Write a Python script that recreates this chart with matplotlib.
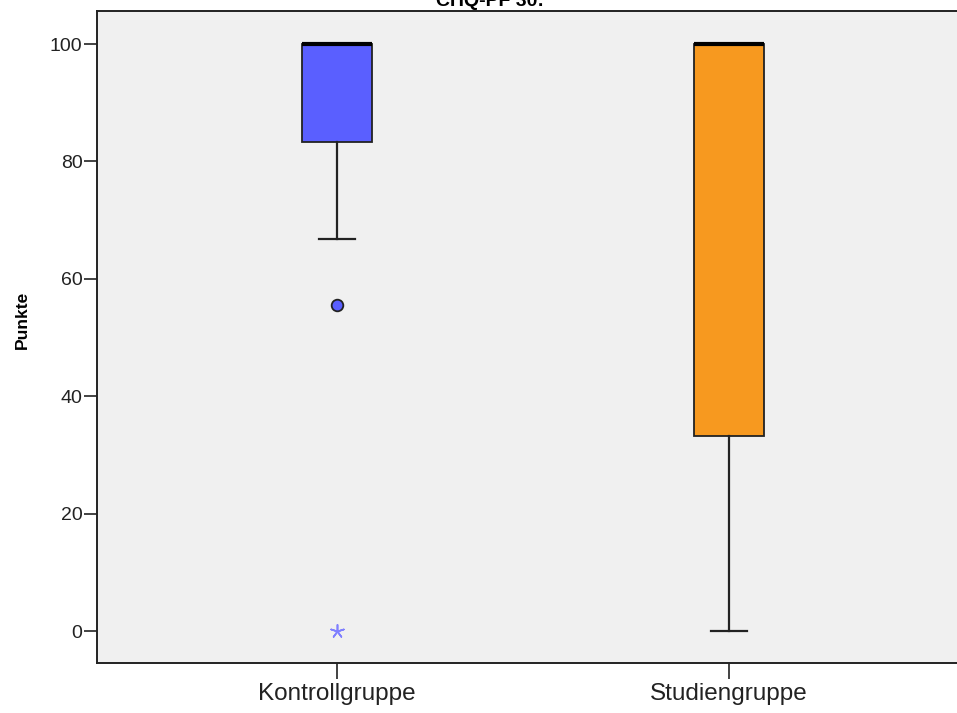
import matplotlib
matplotlib.use("Agg")
import matplotlib.pyplot as plt

plt.rcParams['font.family'] = ['Liberation Sans', 'DejaVu Sans']

# Group labels and box statistics (CHQ-PF 30 scores, 0-100 points)
groups = ["Kontrollgruppe", "Studiengruppe"]
q1 = [83.3, 33.3]
median = [100.0, 100.0]
q3 = [100.0, 100.0]
whisker_low = [66.7, 0.0]
whisker_high = [100.0, 100.0]
outliers = [[55.6], []]      # mild outliers (circle)
extremes = [[0.0], []]       # extreme values (star)

box_colors = ["#5a5fff", "#f7991f"]
extreme_color = "#8080ff"

yticks = [0, 20, 40, 60, 80, 100]

W, H = 957, 713
fig = plt.figure(figsize=(W / 100, H / 100), dpi=100)
fig.patch.set_facecolor("white")

left, right, top, bottom = 97, 957, 11, 663
ax = fig.add_axes([left / W, (H - bottom) / H, (right - left) / W, (bottom - top) / H])
ax.set_facecolor("#f0f0f0")

positions = list(range(len(groups)))
stats = []
for i, g in enumerate(groups):
    stats.append(dict(label=g, q1=q1[i], med=median[i], q3=q3[i],
                      whislo=whisker_low[i], whishi=whisker_high[i], fliers=[]))

bp = ax.bxp(stats, positions=positions, widths=0.181, capwidths=0.09,
            patch_artist=True, showfliers=False,
            boxprops=dict(linewidth=1.3, edgecolor="#222222"),
            whiskerprops=dict(linewidth=1.6, color="#222222"),
            capprops=dict(linewidth=1.6, color="#222222"),
            medianprops=dict(linewidth=3.0, color="black"))
for patch, c in zip(bp["boxes"], box_colors):
    patch.set_facecolor(c)

for i, vals in enumerate(outliers):
    if vals:
        ax.scatter([positions[i]] * len(vals), vals, s=70, marker="o",
                   facecolor=box_colors[i], edgecolor="#222222", linewidth=1.3, zorder=5)
for i, vals in enumerate(extremes):
    if vals:
        ax.scatter([positions[i]] * len(vals), vals, s=90, marker=(5, 2, 0),
                   color=extreme_color, linewidth=1.2, zorder=5)

# y scale: 0 at pixel 631, 100 at pixel 44
ppu = (631 - 44) / 100.0
ax.set_ylim(-(bottom - 631) / ppu, 100 + (44 - top) / ppu)
ax.set_yticks(yticks)
ax.set_yticklabels([str(v) for v in yticks])

# x scale: groups at pixel 337 and 729
xspan = 729 - 337
ax.set_xlim((left - 337) / xspan, (right - 337) / xspan)
ax.set_xticks(positions)
ax.set_xticklabels(groups)

ax.spines["right"].set_visible(False)
for s in ["left", "bottom", "top"]:
    ax.spines[s].set_linewidth(1.4)
    ax.spines[s].set_color("#222222")

ax.tick_params(axis="y", length=9.5, width=1.2, labelsize=14, pad=1, colors="#222222")
ax.tick_params(axis="x", length=11.5, width=1.2, labelsize=17.5, pad=3, colors="#222222")

ax.set_ylabel("Punkte", fontsize=12.5, fontweight="bold")
ax.yaxis.set_label_coords(-0.078, 0.526)

fig.text(490 / W, 1 - 6 / H, "CHQ-PF 30:", ha="center", va="baseline",
         fontsize=14, fontweight="bold")

fig.savefig("out.png", dpi=100)
